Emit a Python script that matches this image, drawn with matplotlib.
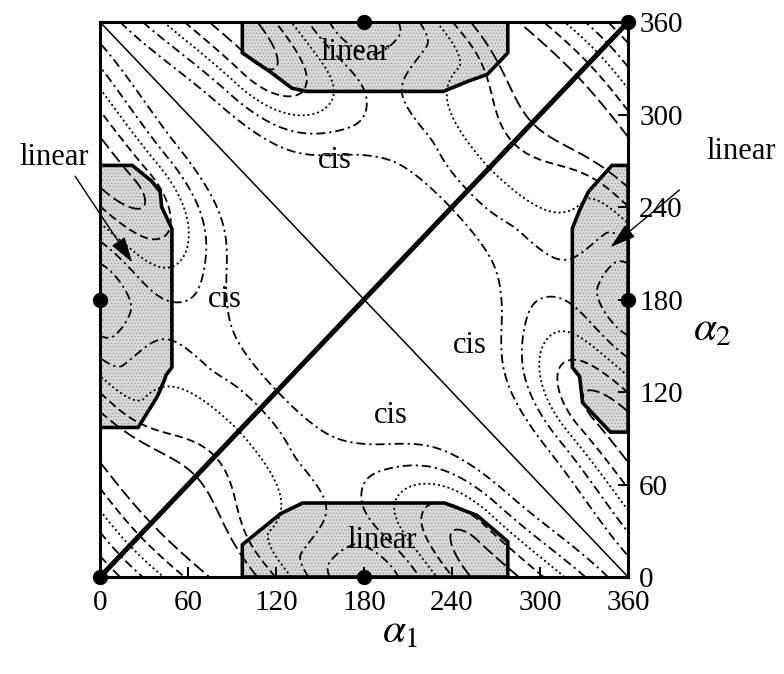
import numpy as np
import matplotlib
matplotlib.use("Agg")
import matplotlib.pyplot as plt
from matplotlib.patches import Polygon

plt.rcParams['font.family'] = ['Liberation Serif', 'DejaVu Serif']
plt.rcParams['mathtext.fontset'] = 'stix'
plt.rcParams['hatch.linewidth'] = 0.6

# ---------------- data ----------------
tick_values = [0, 60, 120, 180, 240, 300, 360]

# boundaries of the shaded "linear" regions (alpha1, alpha2)
linear_bottom = [(97, 0), (97, 21), (123, 41), (138, 48), (235, 48), (257, 40), (278, 23), (278, 0)]
linear_top = [(97, 360), (97, 340), (117, 327), (131, 317), (141, 315), (234, 315),
              (252, 322), (264, 326), (278, 340), (278, 360)]
linear_left = [(0, 267), (22, 267), (35, 257), (41, 250), (42, 240), (49, 226), (49, 136),
               (45, 131), (44, 128), (39, 117), (26, 97), (0, 97)]
linear_right = [(360, 267), (349, 267), (333, 250), (327, 238), (322, 226), (322, 136),
                (327, 130), (329, 113), (348, 94), (360, 94)]

# energy-surface description (periodic in both angles)
ridge_height = 5.4
ridge_w_low = -0.75     # (cos a1 + cos a2)/2 where the ridge vanishes
ridge_w_high = 0.35     # ... and where it is fully grown
inner_power = 0.8
ridge_pos = 95.0        # |a1 + a2| (mod 360) of the ridge
fall_width = 80.0
fall_shrink = 30.0
basin_floor = 0.5
m_height = 1.1
m_power = 4
valley_slope = 0.15
well_depth = 1.9        # "linear" basins
well_long = 2.5
well_cross = 7.0

contour_levels = [1, 2, 3, 4, 5]
contour_styles = ['dashdot', 'dashdot', 'dotted', 'dashed', 'longdash']

# special configurations marked with dots
dot_a1 = [0, 180, 0, 180, 360, 360]
dot_a2 = [0, 0, 180, 360, 180, 360]

cis_labels = [(160, 270), (85, 180), (252, 150), (198, 105)]
linear_inside = [(174, 340), (192, 24)]
arrow_left = {'text': (-31, 272), 'start': (-17, 260), 'tip': (22, 204)}
arrow_right = {'text': (437, 276), 'start': (395, 251), 'tip': (348, 214)}


def smoothstep(z):
    z = np.clip(z, 0, 1)
    return z * z * (3 - 2 * z)


def surface(a1, a2):
    x = np.radians(a1)
    y = np.radians(a2)
    w = 0.5 * (np.cos(x) + np.cos(y))
    u = x - y
    t = x + y
    a = np.abs(((a1 + a2 + 180.0) % 360.0) - 180.0)
    su2 = np.sin(u) ** 2
    sh2 = 0.5 * (1 - np.cos(u))
    H = ridge_height * smoothstep((w - ridge_w_low) / (ridge_w_high - ridge_w_low))
    p = 1 + inner_power * sh2
    s = np.clip(a / ridge_pos, 0, 1)
    g = 0.5 * np.sin(np.pi * s / 2) + 0.25 * (1 - np.cos(np.pi * s))
    inner = g ** p
    width = fall_width - fall_shrink * su2
    z = np.clip((a - ridge_pos) / width, 0, 1)
    outer = basin_floor + (1 - basin_floor) * np.cos(np.pi * z / 2) ** 2
    h = np.where(a <= ridge_pos, inner, outer)
    mterm = m_height * 0.5 * (1 + np.cos(u)) * (0.5 * (1 - np.cos(t))) ** m_power
    base = valley_slope * (1 + w)
    wells = well_depth * (np.exp(well_long * (np.cos(x - np.pi) - 1) + well_cross * (np.cos(y) - 1))
                          + np.exp(well_long * (np.cos(y - np.pi) - 1) + well_cross * (np.cos(x) - 1)))
    return H * h + mterm + base - wells


# ---------------- figure ----------------
fig = plt.figure(figsize=(7.84, 6.74), dpi=100)
ax = fig.add_axes([0.1276, 0.1439, 0.6735, 0.8234])

g = np.linspace(0, 360, 541)
A1, A2 = np.meshgrid(g, g)
Z = surface(A1, A2)

for poly in (linear_bottom, linear_top, linear_left, linear_right):
    ax.add_patch(Polygon(poly, closed=True, facecolor='#dadada', edgecolor='#a0a0a0',
                         hatch='.....', lw=0, zorder=1))

dash_map = {'dashed': (0, (4.5, 2.4)), 'dotted': (0, (1.1, 1.6)),
            'dashdot': (0, (5, 2.2, 1.2, 2.2)), 'longdash': (0, (7, 2.6))}
for lev, st in zip(contour_levels, contour_styles):
    ax.contour(A1, A2, Z, levels=[lev], colors='black', linewidths=1.3,
               linestyles=[dash_map[st]], zorder=2)

for poly in (linear_bottom, linear_top, linear_left, linear_right):
    ax.add_patch(Polygon(poly, closed=True, fill=False, edgecolor='black', lw=2.6,
                         joinstyle='miter', zorder=3))

ax.plot([0, 360], [0, 360], color='black', lw=3.6, zorder=4, solid_capstyle='butt')
ax.plot([0, 360], [360, 0], color='black', lw=1.1, zorder=4)
ax.plot(dot_a1, dot_a2, 'o', color='black', ms=10, clip_on=False, zorder=6)

for (px, py) in cis_labels:
    ax.text(px, py, 'cis', fontsize=22, ha='center', va='center', zorder=5)
for (px, py) in linear_inside:
    ax.text(px, py, 'linear', fontsize=22, ha='center', va='center', zorder=5)

for arr in (arrow_left, arrow_right):
    ax.text(arr['text'][0], arr['text'][1], 'linear', fontsize=22, ha='center',
            va='center', clip_on=False)
    ax.annotate('', xy=arr['tip'], xytext=arr['start'], annotation_clip=False,
                arrowprops=dict(arrowstyle='-|>,head_length=1.0,head_width=0.3',
                                mutation_scale=16, color='black', lw=1.0,
                                shrinkA=0, shrinkB=0), zorder=6)

ax.set_xlim(0, 360)
ax.set_ylim(0, 360)
ax.set_xticks(tick_values)
ax.set_yticks(tick_values)
ax.tick_params(direction='in', length=7, width=1.4, bottom=True, top=False,
               left=False, right=True, labelleft=False, labelright=True, labelsize=21)
ax.tick_params(axis='x', pad=9)
ax.tick_params(axis='y', pad=8)
for sp in ax.spines.values():
    sp.set_linewidth(2.2)

ax.text(0.568, -0.1, r'$\alpha_1$', transform=ax.transAxes, fontsize=30,
        ha='center', va='center')
ax.text(1.16, 0.445, r'$\alpha_2$', transform=ax.transAxes, fontsize=30,
        ha='center', va='center')

fig.savefig('out.png', dpi=100)
